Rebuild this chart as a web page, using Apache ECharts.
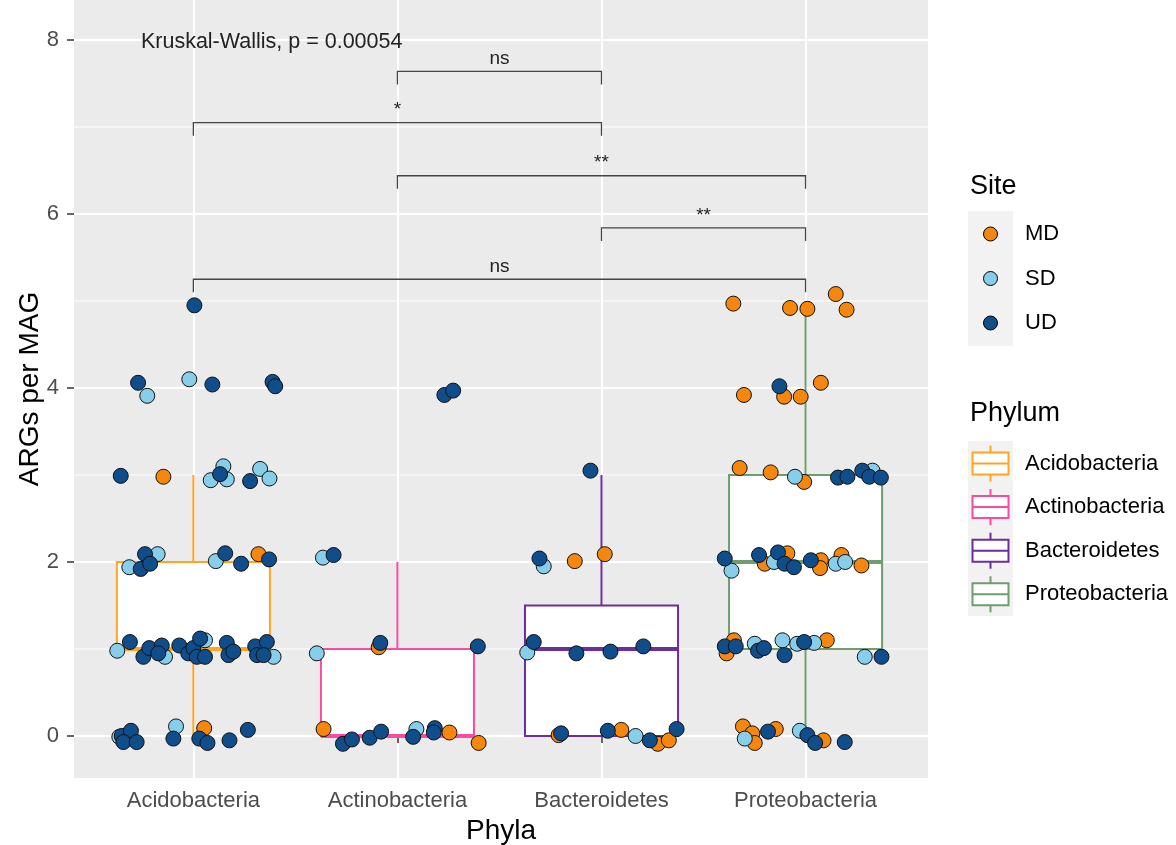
<!DOCTYPE html>
<html><head><meta charset="utf-8">
<script src="https://cdn.jsdelivr.net/npm/echarts@6/dist/echarts.min.js"></script>
<style>html,body{margin:0;padding:0;background:#fff}#c{width:1176px;height:845px}</style>
</head><body><div id="c"></div>
<script>
// ---------- data ----------
const phyla = ['Acidobacteria', 'Actinobacteria', 'Bacteroidetes', 'Proteobacteria'];
const sites = ['MD', 'SD', 'UD'];
const boxMin = [0, 0, 0, 0];
const boxQ1 = [1, 0, 0, 1];
const boxMedian = [1, 0, 1, 2];
const boxQ3 = [2, 1, 1.5, 3];
const boxMax = [3, 2, 3, 5];

const mdPoints = [
  [0.853,2.98],[1.319,2.09],[1.053,0.09],
  [1.908,1.02],[1.638,0.08],[2.255,0.04],[2.398,-0.08],
  [2.869,2.01],[3.016,2.09],[2.790,0.01],[3.097,0.07],[3.276,-0.09],[3.330,-0.05],
  [3.646,4.97],[3.924,4.92],[4.009,4.91],[4.148,5.08],[4.201,4.90],[3.698,3.92],[3.895,3.90],[3.976,3.90],[4.075,4.06],
  [3.677,3.08],[3.829,3.03],[3.993,2.92],[3.800,1.98],[3.911,2.10],[4.075,2.02],[4.071,1.93],[4.176,2.08],[4.274,1.96],
  [3.649,1.10],[3.613,0.95],[4.104,1.10],[3.693,0.11],[3.739,0.03],[3.751,-0.08],[3.854,0.08],[4.088,-0.05]
];
const sdPoints = [
  [0.774,3.91],[0.980,4.10],[1.085,2.94],[1.147,3.10],[1.164,2.95],[1.327,3.07],[1.373,2.96],[0.686,1.94],[0.825,2.09],
  [1.110,2.01],[0.627,0.98],[0.861,0.91],[1.057,1.10],[1.393,0.91],[0.915,0.11],[0.637,-0.01],
  [1.635,2.05],[1.605,0.95],[2.093,0.08],
  [2.717,1.95],[2.636,0.96],[3.167,0.00],
  [3.948,2.98],[4.328,3.05],[3.637,1.90],[3.845,2.00],[4.148,1.98],[4.194,2.00],[3.751,1.06],[3.887,1.10],[3.959,1.06],
  [4.042,1.07],[4.290,0.91],[3.702,-0.03],[3.972,0.06]
];
const udPoints = [
  [1.005,4.95],[0.729,4.06],[1.093,4.04],[1.388,4.07],[1.401,4.02],[0.644,2.99],[1.131,3.01],[1.278,2.93],
  [0.742,1.92],[0.763,2.09],[0.788,1.98],[1.156,2.10],[1.234,1.98],[1.371,2.03],
  [0.689,1.08],[0.755,0.91],[0.784,1.01],[0.845,1.04],[0.828,0.95],[0.931,1.04],[0.975,0.95],[1.000,1.01],[1.033,1.12],
  [1.017,0.91],[1.057,0.91],[1.164,1.07],[1.172,0.93],[1.196,0.97],[1.303,1.03],[1.312,0.93],[1.360,1.08],[1.344,0.93],
  [0.649,0.00],[0.694,0.06],[0.657,-0.07],[0.722,-0.07],[0.902,-0.03],[1.029,-0.03],[1.069,-0.08],[1.177,-0.05],[1.267,0.07],
  [2.230,3.92],[2.273,3.97],[1.687,2.08],[1.916,1.07],[2.394,1.03],[1.733,-0.09],[1.777,-0.04],[1.864,-0.02],[1.920,0.05],
  [2.077,-0.01],[2.183,0.09],[2.178,0.04],
  [2.946,3.05],[2.696,2.04],[2.668,1.08],[2.877,0.95],[3.044,0.97],[3.205,1.03],[2.802,0.03],[3.031,0.06],[3.237,-0.05],[3.368,0.08],
  [3.872,4.02],[4.159,2.97],[4.205,2.98],[4.278,3.05],[4.312,2.98],[4.369,2.97],[3.604,2.04],[3.772,2.08],[3.865,2.11],
  [3.897,1.98],[3.943,1.94],[4.026,2.02],[3.604,1.03],[3.658,1.03],[3.767,0.98],[3.796,1.01],[3.897,0.93],[3.993,1.08],
  [4.372,0.91],[3.816,0.05],[4.009,0.01],[4.047,-0.08],[4.192,-0.07]
];

const yTicks = [0, 2, 4, 6, 8];
const yMinorTicks = [1, 3, 5, 7];
const xTicks = [1, 2, 3, 4];
const comparisonFrom = [2, 1, 2, 3, 1];
const comparisonTo = [3, 3, 4, 4, 4];
const comparisonY = [7.64, 7.05, 6.44, 5.84, 5.25];
const comparisonLabels = ['ns', '*', '**', '**', 'ns'];
const kwLabel = 'Kruskal-Wallis, p = 0.00054';
const kwAnchor = [0.743, 7.98];

// ---------- styles ----------
const FONT = 'Liberation Sans';
const siteColors = ['#F5870F', '#87CEEB', '#104E8B'];
const phylumColors = ['#FFA522', '#F84C9E', '#6A2E9E', '#6E9D6E'];
const BOX_HALF = 0.375;

const chart = echarts.init(document.getElementById('c'), null, {renderer: 'canvas'});

const boxData = phyla.map((p, i) => [i + 1, boxMin[i], boxQ1[i], boxMedian[i], boxQ3[i], boxMax[i]]);
const bracketData = comparisonLabels.map((l, i) => [comparisonFrom[i], comparisonTo[i], comparisonY[i]]);

// legend graphics
const graphics = [];
graphics.push({type: 'text', left: 970, top: 173, style: {text: 'Site', fontSize: 27, fontFamily: FONT, fill: '#000'}});
graphics.push({type: 'rect', shape: {x: 968, y: 211, width: 45, height: 135}, style: {fill: '#F2F2F2'}});
sites.forEach((s, i) => {
  const cy = 234 + i * 44.5;
  graphics.push({type: 'circle', shape: {cx: 990.5, cy: cy, r: 7}, style: {fill: siteColors[i], stroke: '#000', lineWidth: 1}});
  graphics.push({type: 'text', x: 1025, y: cy, style: {text: s, fontSize: 22, fontFamily: FONT, fill: '#000', verticalAlign: 'middle'}});
});
graphics.push({type: 'text', left: 970, top: 400, style: {text: 'Phylum', fontSize: 27, fontFamily: FONT, fill: '#000'}});
graphics.push({type: 'rect', shape: {x: 968, y: 441, width: 45, height: 175}, style: {fill: '#F2F2F2'}});
phyla.forEach((p, i) => {
  const cy = 463.5 + i * 43.6;
  const col = phylumColors[i];
  graphics.push({type: 'line', shape: {x1: 990.5, y1: cy - 18, x2: 990.5, y2: cy + 18}, style: {stroke: col, lineWidth: 2}});
  graphics.push({type: 'rect', shape: {x: 972.5, y: cy - 11, width: 36, height: 22}, style: {fill: '#fff', stroke: col, lineWidth: 2}});
  graphics.push({type: 'line', shape: {x1: 972.5, y1: cy, x2: 1008.5, y2: cy}, style: {stroke: col, lineWidth: 2}});
  graphics.push({type: 'text', x: 1025, y: cy, style: {text: p, fontSize: 22, fontFamily: FONT, fill: '#000', verticalAlign: 'middle'}});
});

const option = {
  animation: false,
  backgroundColor: '#fff',
  grid: {left: 74, right: 248, top: 0, bottom: 67, outerBoundsMode: 'none', containLabel: false,
         show: true, backgroundColor: '#EBEBEB', borderWidth: 0},
  xAxis: {
    type: 'value', min: 0.415, max: 4.6,
    axisLine: {show: false},
    axisTick: {show: true, customValues: xTicks, length: 7, lineStyle: {color: '#333', width: 1.5}},
    axisLabel: {customValues: xTicks, formatter: v => phyla[Math.round(v) - 1], color: '#4D4D4D', fontSize: 22, fontFamily: FONT, margin: 12},
    splitLine: {show: true, lineStyle: {color: '#fff', width: 2}},
    name: 'Phyla', nameLocation: 'middle', nameGap: 39, nameMoveOverlap: false,
    nameTextStyle: {fontSize: 28, color: '#000', fontFamily: FONT}
  },
  yAxis: {
    type: 'value', min: -0.483, max: 8.46,
    axisLine: {show: false},
    axisTick: {show: true, customValues: yTicks, length: 7, lineStyle: {color: '#333', width: 1.5}},
    axisLabel: {customValues: yTicks, color: '#4D4D4D', fontSize: 22, fontFamily: FONT, margin: 15},
    splitLine: {show: true, lineStyle: {color: '#fff', width: 2}},
    name: 'ARGs per MAG', nameLocation: 'middle', nameGap: 30, nameRotate: 90, nameMoveOverlap: false,
    nameTextStyle: {fontSize: 28, color: '#000', fontFamily: FONT}
  },
  graphic: graphics,
  series: [
    {
      type: 'custom', name: 'minor', z: 1, silent: true,
      data: yMinorTicks.map(v => [1, v]),
      encode: {x: 0, y: 1},
      renderItem(params, api) {
        const y = api.coord([1, api.value(1)])[1];
        const cs = params.coordSys;
        return {type: 'line', shape: {x1: cs.x, y1: y, x2: cs.x + cs.width, y2: y}, style: {stroke: '#fff', lineWidth: 1}};
      }
    },
    {
      type: 'custom', name: 'boxes', z: 2, silent: true,
      data: boxData,
      encode: {x: 0, y: [1, 2, 3, 4, 5]},
      renderItem(params, api) {
        const i = params.dataIndex;
        const c = api.value(0);
        const col = phylumColors[i];
        const pMin = api.coord([c, api.value(1)]);
        const pQ1 = api.coord([c, api.value(2)]);
        const pMed = api.coord([c, api.value(3)]);
        const pQ3 = api.coord([c, api.value(4)]);
        const pMax = api.coord([c, api.value(5)]);
        const l = api.coord([c - BOX_HALF, 0])[0];
        const r = api.coord([c + BOX_HALF, 0])[0];
        return {type: 'group', children: [
          {type: 'line', shape: {x1: pQ3[0], y1: pQ3[1], x2: pMax[0], y2: pMax[1]}, style: {stroke: col, lineWidth: 2}},
          {type: 'line', shape: {x1: pMin[0], y1: pMin[1], x2: pQ1[0], y2: pQ1[1]}, style: {stroke: col, lineWidth: 2}},
          {type: 'rect', shape: {x: l, y: pQ3[1], width: r - l, height: pQ1[1] - pQ3[1]}, style: {fill: '#fff', stroke: col, lineWidth: 2}},
          {type: 'line', shape: {x1: l, y1: pMed[1], x2: r, y2: pMed[1]}, style: {stroke: col, lineWidth: 4}}
        ]};
      }
    },
    {type: 'scatter', name: 'MD', z: 4, data: mdPoints, symbolSize: 15, itemStyle: {color: siteColors[0], borderColor: '#111', borderWidth: 1, opacity: 1}},
    {type: 'scatter', name: 'SD', z: 4, data: sdPoints, symbolSize: 15, itemStyle: {color: siteColors[1], borderColor: '#111', borderWidth: 1, opacity: 1}},
    {type: 'scatter', name: 'UD', z: 4, data: udPoints, symbolSize: 15, itemStyle: {color: siteColors[2], borderColor: '#111', borderWidth: 1, opacity: 1}},
    {
      type: 'custom', name: 'brackets', z: 5, silent: true,
      data: bracketData,
      encode: {x: [0, 1], y: 2},
      renderItem(params, api) {
        const a = api.coord([api.value(0), api.value(2)]);
        const b = api.coord([api.value(1), api.value(2)]);
        const drop = api.size([0, 0.15])[1];
        return {type: 'group', children: [
          {type: 'polyline', shape: {points: [[a[0], a[1] + drop], [a[0], a[1]], [b[0], b[1]], [b[0], b[1] + drop]]}, style: {stroke: '#444', lineWidth: 1.3, fill: null}},
          {type: 'text', x: (a[0] + b[0]) / 2, y: a[1] - 3, style: {text: comparisonLabels[params.dataIndex], fontSize: 19, fontFamily: FONT, fill: '#222', align: 'center', verticalAlign: 'bottom'}}
        ]};
      }
    },
    {
      type: 'custom', name: 'kw', z: 5, silent: true,
      data: [kwAnchor],
      encode: {x: 0, y: 1},
      renderItem(params, api) {
        const p = api.coord([api.value(0), api.value(1)]);
        return {type: 'text', x: p[0], y: p[1], style: {text: kwLabel, fontSize: 21.5, fontFamily: FONT, fill: '#222', align: 'left', verticalAlign: 'middle'}};
      }
    }
  ]
};
chart.setOption(option);
</script></body></html>
